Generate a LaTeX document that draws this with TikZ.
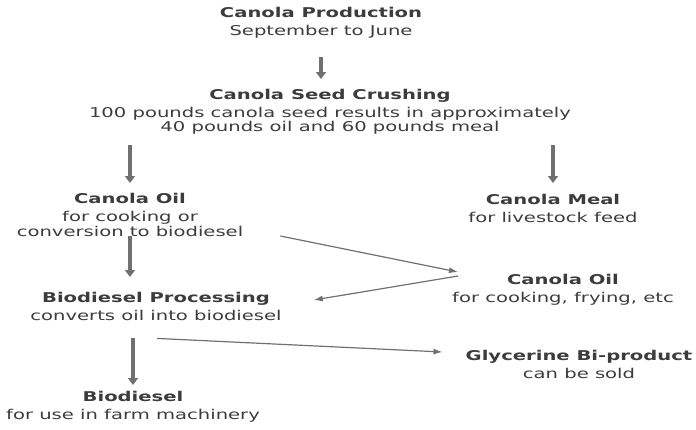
\documentclass[tikz,border=0pt]{standalone}
\usepackage{fontspec}
\setmainfont[FakeStretch=1.45]{DejaVu Sans}
\usetikzlibrary{arrows.meta}
\definecolor{inkgray}{HTML}{3C3C3C}
\definecolor{arrowgray}{HTML}{707070}
\tikzset{
  stage/.style={align=center, text=inkgray, inner sep=0pt, font=\fontsize{13.5}{14.5}\selectfont},
  bigarrow/.style={draw=arrowgray, line width=3.5pt, -{Triangle[width=10pt,length=7pt]}},
  thinarrow/.style={draw=arrowgray, line width=1.2pt, -{Latex[width=6pt,length=9pt]}}
}
\begin{document}
\begin{tikzpicture}[x=1pt,y=-1pt]
\useasboundingbox (0,0) rectangle (696,429);
% stages
\node[stage] (prod) at (321,23) {\textbf{Canola Production}\\[3.5pt] September to June};
\node[stage] (crush) at (330,112) {\textbf{Canola Seed Crushing}\\[3.5pt] 100 pounds canola seed results in approximately\\ 40 pounds oil and 60 pounds meal};
\node[stage] (oil) at (130,215) {\textbf{Canola Oil}\\[3.5pt] for cooking or\\ conversion to biodiesel};
\node[stage] (meal) at (553,208) {\textbf{Canola Meal}\\[3.5pt] for livestock feed};
\node[stage] (proc) at (156,306) {\textbf{Biodiesel Processing}\\[3.5pt] converts oil into biodiesel};
\node[stage] (food) at (563,290) {\textbf{Canola Oil}\\[3.5pt] for cooking, frying, etc};
\node[stage] (glyc) at (579,364) {\textbf{Glycerine Bi-product}\\[3.5pt] can be sold};
\node[stage] (diesel) at (133,407) {\textbf{Biodiesel}\\[3.5pt] for use in farm machinery};
% arrows
\draw[bigarrow] (prod.south |- 0,57) -- (prod.south |- 0,79);
\draw[bigarrow] (oil.north |- 0,145) -- (oil.north |- 0,183);
\draw[bigarrow] (meal.north |- 0,145) -- (meal.north |- 0,183);
\draw[bigarrow] (oil.south |- 0,236) -- (oil.south |- 0,277);
\draw[bigarrow] (diesel.north |- 0,338) -- (diesel.north |- 0,385);
\draw[thinarrow] ([xshift=37pt,yshift=-21pt]oil.east) -- ([xshift=6pt,yshift=18pt]food.west);
\draw[thinarrow] ([xshift=6pt,yshift=14pt]food.west) -- ([xshift=32pt,yshift=6pt]proc.east);
\draw[thinarrow] ([xshift=1pt,yshift=-18pt]proc.south) -- ([xshift=-23pt,yshift=12pt]glyc.west);
\end{tikzpicture}
\end{document}
